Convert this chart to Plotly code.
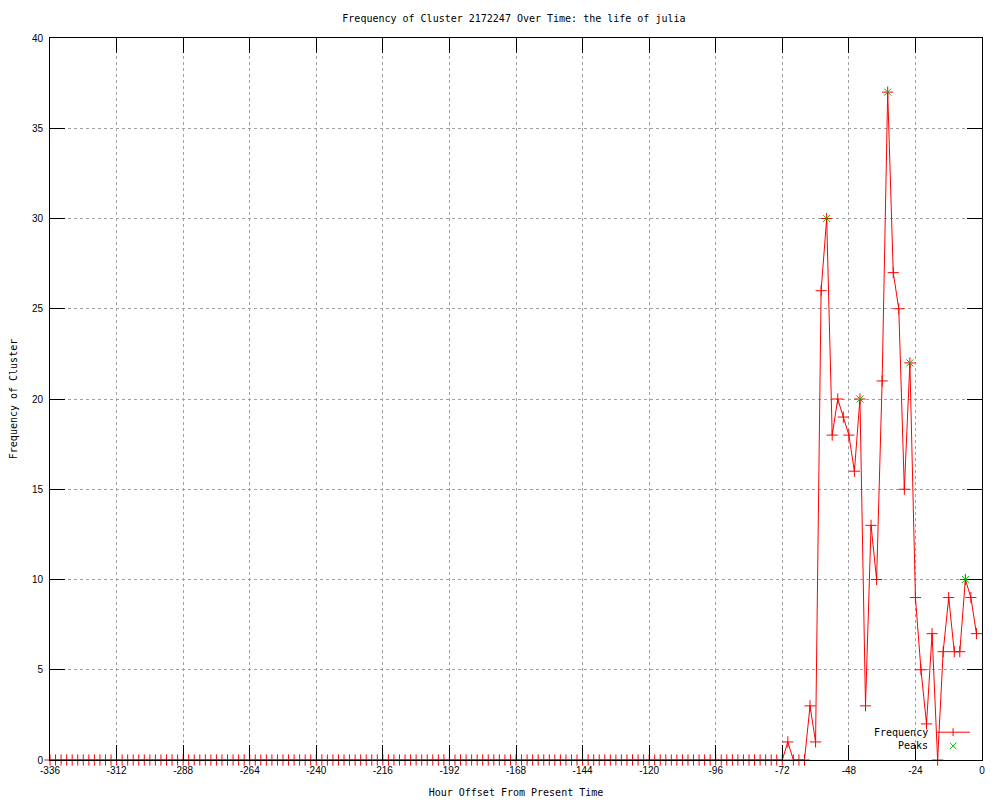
import plotly.graph_objects as go

# ---- data ----
hours = list(range(-336, 0, 2))  # one sample every 2 hours, -336 .. -2

frequency = [
    0, 0, 0, 0, 0, 0, 0, 0, 0, 0, 0, 0, 0, 0, 0, 0, 0, 0, 0, 0,
    0, 0, 0, 0, 0, 0, 0, 0, 0, 0, 0, 0, 0, 0, 0, 0, 0, 0, 0, 0,
    0, 0, 0, 0, 0, 0, 0, 0, 0, 0, 0, 0, 0, 0, 0, 0, 0, 0, 0, 0,
    0, 0, 0, 0, 0, 0, 0, 0, 0, 0, 0, 0, 0, 0, 0, 0, 0, 0, 0, 0,
    0, 0, 0, 0, 0, 0, 0, 0, 0, 0, 0, 0, 0, 0, 0, 0, 0, 0, 0, 0,
    0, 0, 0, 0, 0, 0, 0, 0, 0, 0, 0, 0, 0, 0, 0, 0, 0, 0, 0, 0,
    0, 0, 0, 0, 0, 0, 0, 0, 0, 0, 0, 0, 0,
    # -70 .. -2
    1, 0, 0, 0, 3, 1, 26, 30, 18, 20, 19, 18, 16, 20, 3, 13, 10, 21,
    37, 27, 25, 15, 22, 9, 5, 2, 7, 0, 6, 9, 6, 6, 10, 9, 7,
]

peak_hours = [-56, -44, -34, -26, -6]
peak_values = [30, 20, 37, 22, 10]

x_tick_vals = [-336, -312, -288, -264, -240, -216, -192, -168, -144, -120, -96, -72, -48, -24, 0]
x_tick_labels = ["-336", "-312", "-288", "-264", "-240", "-216", "-192", "-168",
                 "-144", "-120", "-96", "-72", "-48", "-24", "0"]
y_tick_vals = [0, 5, 10, 15, 20, 25, 30, 35, 40]
y_tick_labels = ["0", "5", "10", "15", "20", "25", "30", "35", "40"]

title_text = "Frequency of Cluster 2172247 Over Time: the life of julia"
x_title = "Hour Offset From Present Time"
y_title = "Frequency of Cluster"
legend_labels = ["Frequency", "Peaks"]

RED = "#ff0000"
GREEN = "#00c000"
MONO = "DejaVu Sans Mono"
SANS = "Liberation Sans"

fig = go.Figure()
fig.add_trace(go.Scatter(
    x=hours, y=frequency, mode="lines+markers", name=legend_labels[0],
    line=dict(color=RED, width=1),
    marker=dict(symbol="cross-thin", size=8, line=dict(color=RED, width=1), color=RED),
    cliponaxis=False, showlegend=False,
))
fig.add_trace(go.Scatter(
    x=peak_hours, y=peak_values, mode="markers", name=legend_labels[1],
    marker=dict(symbol="x-thin", size=7, line=dict(color=GREEN, width=1), color=GREEN),
    cliponaxis=False, showlegend=False,
))

# gnuplot-style key (text on the left, sample on the right), bottom-right
key_x_text = 0.944
key_rows = [0.0385, 0.0195]
annotations = [
    dict(xref="paper", yref="paper", x=key_x_text, y=key_rows[0], text=legend_labels[0],
         showarrow=False, xanchor="right", yanchor="middle",
         font=dict(family=MONO, size=10, color="black")),
    dict(xref="paper", yref="paper", x=key_x_text, y=key_rows[1], text=legend_labels[1],
         showarrow=False, xanchor="right", yanchor="middle",
         font=dict(family=MONO, size=10, color="black")),
]
shapes = [
    dict(type="line", xref="paper", yref="paper", x0=0.952, x1=0.987,
         y0=key_rows[0], y1=key_rows[0], line=dict(color=RED, width=1)),
    dict(type="line", xref="paper", yref="paper", x0=0.969, x1=0.969,
         y0=key_rows[0] - 0.0055, y1=key_rows[0] + 0.0055, line=dict(color=RED, width=1)),
    dict(type="line", xref="paper", yref="paper", x0=0.9655, x1=0.9725,
         y0=key_rows[1] - 0.0045, y1=key_rows[1] + 0.0045, line=dict(color=GREEN, width=1)),
    dict(type="line", xref="paper", yref="paper", x0=0.9655, x1=0.9725,
         y0=key_rows[1] + 0.0045, y1=key_rows[1] - 0.0045, line=dict(color=GREEN, width=1)),
]

axis_common = dict(
    showline=True, linecolor="black", linewidth=1, mirror="ticks",
    ticks="inside", ticklen=15, tickcolor="black", tickwidth=1,
    showgrid=True, gridcolor="#a0a0a0", griddash="dot", gridwidth=1,
    zeroline=False, automargin=False,
    tickfont=dict(family=SANS, size=10, color="black"),
)

# the page adds an 8px body margin, so the figure is sized to fit inside the window
fig.update_layout(
    width=992, height=792,
    paper_bgcolor="white", plot_bgcolor="white",
    margin=dict(l=42, r=18, t=30, b=40),
    title=dict(text=title_text, x=0.510, xanchor="center", y=0.987, yanchor="middle",
               font=dict(family=MONO, size=10, color="black")),
    xaxis=dict(range=[-336, 0], tickmode="array", tickvals=x_tick_vals, ticktext=x_tick_labels,
               ticklabelstandoff=1,
               title=dict(text=x_title, font=dict(family=MONO, size=10, color="black"), standoff=13),
               **axis_common),
    yaxis=dict(range=[0, 40], tickmode="array", tickvals=y_tick_vals, ticktext=y_tick_labels,
               ticklabelstandoff=4,
               title=dict(text=y_title, font=dict(family=MONO, size=10, color="black"), standoff=13),
               **axis_common),
    annotations=annotations,
    shapes=shapes,
    showlegend=False,
)

fig.write_html("out.html")
